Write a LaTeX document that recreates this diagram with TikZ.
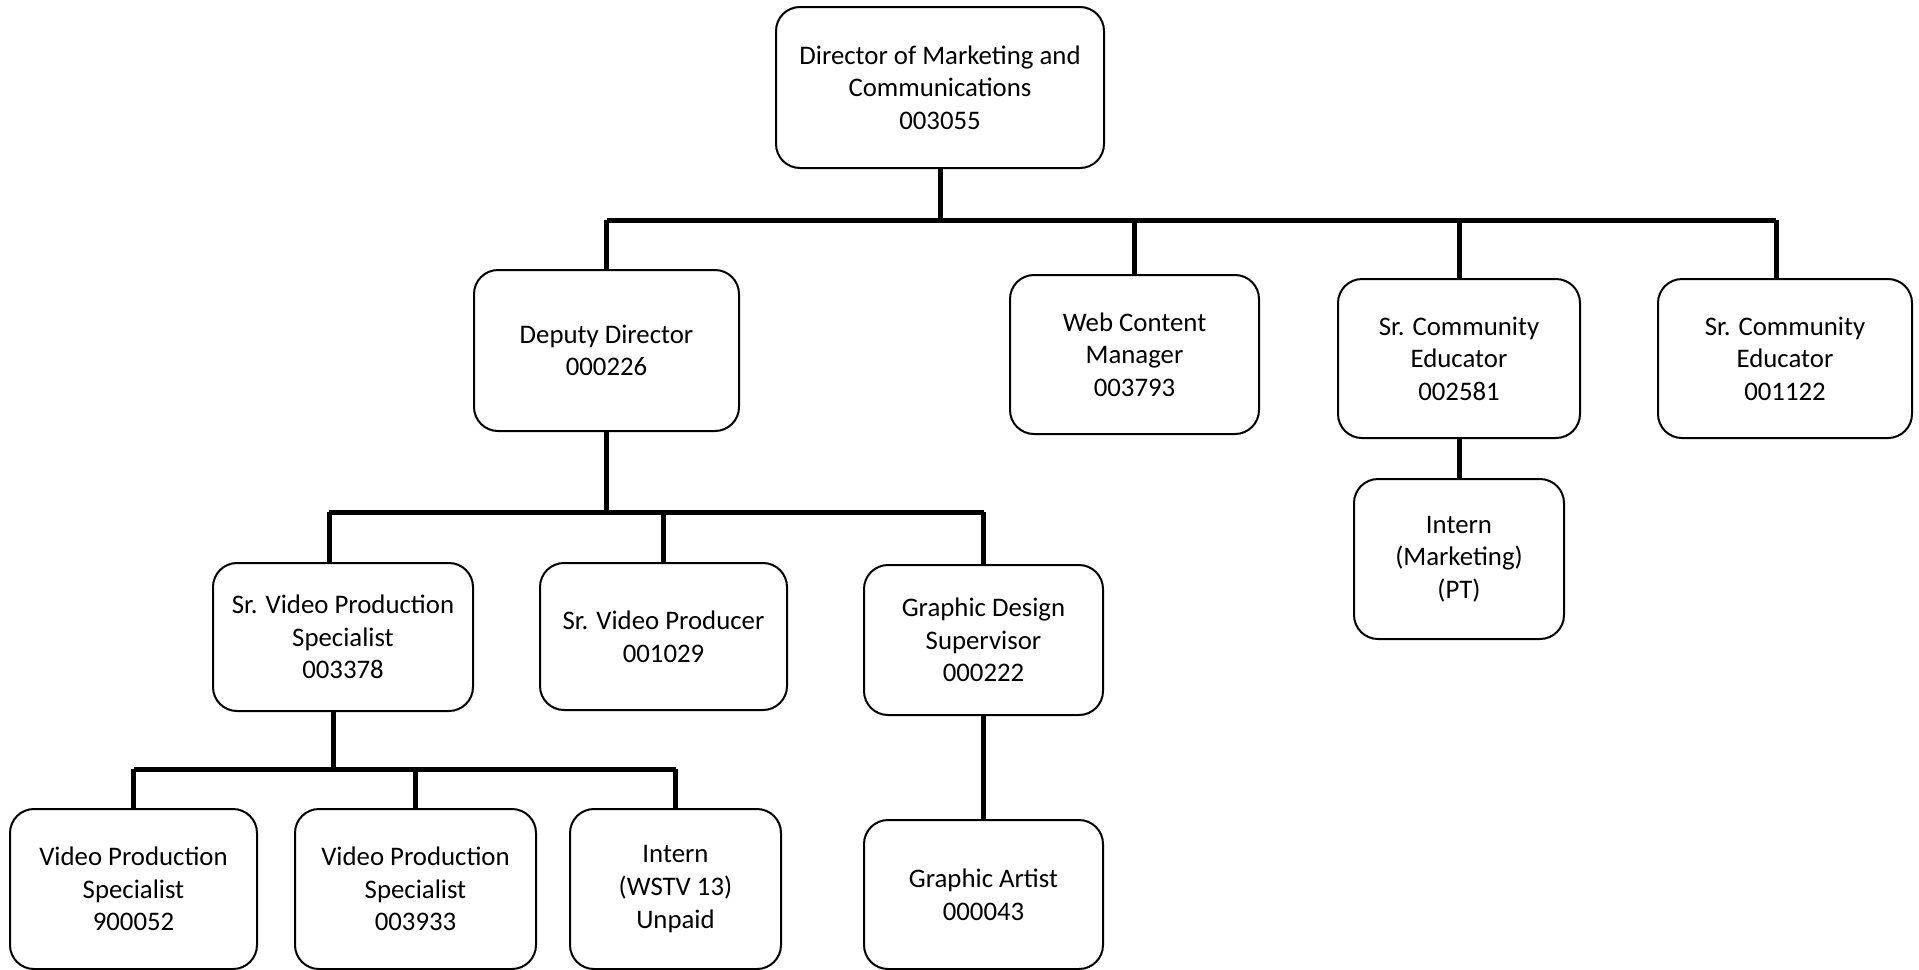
\documentclass[tikz,border=0pt]{standalone}
\usepackage{fontspec}
\setmainfont{Carlito}
\usepackage{tikz}

\begin{document}
\begin{tikzpicture}[x=0.5pt,y=-0.5pt,
	post/.style={draw, line width=1pt, rounded corners=12pt, align=center,
		inner sep=0pt, font=\fontsize{13.4}{16.3}\selectfont},
	wire/.style={line width=2.5pt}]
\useasboundingbox (0,0) rectangle (1919,970);

\node[post, minimum width=164pt, minimum height=80.5pt] (dir) at (940,87.5)
	{Director of Marketing and\\Communications\\003055};

\node[post, minimum width=132.5pt, minimum height=80.5pt] (dep) at (606.5,350.5) {Deputy Director\\000226};
\node[post, minimum width=124.5pt, minimum height=79.5pt] (web) at (1134.5,354.5) {Web Content\\Manager\\003793};
\node[post, minimum width=121pt, minimum height=79.5pt] (ceA) at (1459,358.5) {Sr. Community\\Educator\\002581};
\node[post, minimum width=127pt, minimum height=79.5pt] (ceB) at (1785,358.5) {Sr. Community\\Educator\\001122};
\node[post, minimum width=105pt, minimum height=80pt] (imk) at (1459,559) {Intern\\(Marketing)\\(PT)};

\node[post, minimum width=130pt, minimum height=74pt] (svps) at (343,637) {Sr. Video Production\\Specialist\\003378};
\node[post, minimum width=123.5pt, minimum height=73.5pt] (svp) at (663.5,636.5) {Sr. Video Producer\\001029};
\node[post, minimum width=119.5pt, minimum height=75pt] (gds) at (983.5,640) {Graphic Design\\Supervisor\\000222};
\node[post, minimum width=119.5pt, minimum height=74.5pt] (ga) at (983.5,894.5) {Graphic Artist\\000043};

\node[post, minimum width=123.5pt, minimum height=80pt] (vpsA) at (133.5,889) {Video Production\\Specialist\\900052};
\node[post, minimum width=120.5pt, minimum height=80pt] (vpsB) at (415.5,889) {Video Production\\Specialist\\003933};
\node[post, minimum width=105.5pt, minimum height=80pt] (iwstv) at (675.5,889) {Intern\\(WSTV 13)\\Unpaid};

% bus levels
\coordinate (busA) at (0,220);
\coordinate (busB) at (0,512);
\coordinate (busC) at (0,769);
\coordinate (ceBT) at ([xshift=-4.5pt]ceB.north);
\coordinate (svpsT) at ([xshift=-7pt]svps.north);
\coordinate (svpsB) at ([xshift=-5pt]svps.south);

% director to first row
\draw[wire] (dir.south) -- (dir.south |- busA);
\draw[wire] (dep.north |- busA) -- (ceBT |- busA);
\foreach \n in {dep.north,web.north,ceA.north,ceBT}{
	\draw[wire] (\n |- busA) -- (\n);
}
\draw[wire] (ceA.south) -- (imk.north);

% deputy to second row
\draw[wire] (dep.south) -- (dep.south |- busB);
\draw[wire] (svpsT |- busB) -- (gds.north |- busB);
\draw[wire] (svpsT |- busB) -- (svpsT);
\foreach \n in {svp,gds}{
	\draw[wire] (\n.north |- busB) -- (\n.north);
}
\draw[wire] (gds.south) -- (ga.north);

% video team
\draw[wire] (svpsB) -- (svpsB |- busC);
\draw[wire] (vpsA.north |- busC) -- (iwstv.north |- busC);
\foreach \n in {vpsA,vpsB,iwstv}{
	\draw[wire] (\n.north |- busC) -- (\n.north);
}

\end{tikzpicture}
\end{document}
